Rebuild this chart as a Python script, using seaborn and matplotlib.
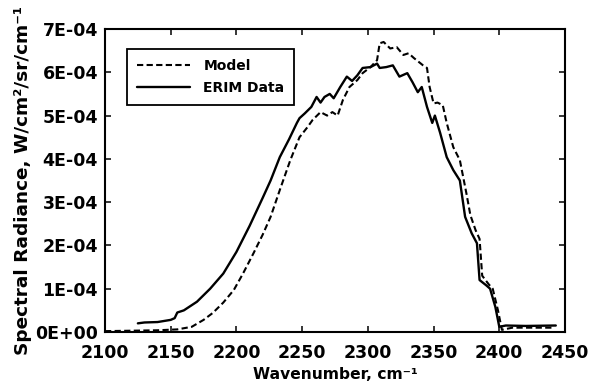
import numpy as np
import pandas as pd
import matplotlib
matplotlib.use("Agg")
import matplotlib.pyplot as plt
from matplotlib.ticker import FuncFormatter
import seaborn as sns

# ERIM measured data (wavenumber cm-1, radiance in 1E-04 W/cm2/sr/cm-1)
erim_wn = [2125, 2130, 2140, 2150, 2153, 2155, 2160, 2170, 2180, 2190, 2200, 2210,
           2220, 2226, 2233, 2240, 2246, 2248, 2252, 2257, 2261, 2264, 2267, 2271,
           2274, 2279, 2284, 2288, 2292, 2296, 2302, 2307, 2309, 2314, 2319, 2324,
           2330, 2334, 2338, 2341, 2345, 2349, 2351, 2355, 2360, 2365, 2370, 2374,
           2379, 2383, 2385, 2390, 2393, 2397, 2400, 2405, 2420, 2443]
erim_val = [0.20, 0.22, 0.23, 0.28, 0.32, 0.45, 0.50, 0.70, 1.00, 1.35, 1.85, 2.45,
            3.10, 3.50, 4.04, 4.45, 4.83, 4.94, 5.05, 5.20, 5.43, 5.30, 5.43, 5.50,
            5.40, 5.66, 5.90, 5.80, 5.93, 6.10, 6.12, 6.20, 6.10, 6.12, 6.16, 5.90,
            5.98, 5.77, 5.54, 5.66, 5.20, 4.83, 5.00, 4.60, 4.04, 3.74, 3.50, 2.66,
            2.28, 2.05, 1.20, 1.08, 1.00, 0.58, 0.12, 0.15, 0.14, 0.15]

# Model
model_wn = [2100, 2120, 2140, 2155, 2166, 2175, 2182, 2190, 2198, 2205, 2213, 2220,
            2226, 2233, 2241, 2248, 2254, 2258, 2264, 2269, 2273, 2277, 2281, 2286,
            2292, 2296, 2302, 2307, 2309, 2312, 2317, 2322, 2327, 2331, 2335, 2342,
            2345, 2347, 2350, 2353, 2357, 2360, 2365, 2370, 2375, 2378, 2382, 2385,
            2387, 2392, 2395, 2399, 2402, 2410, 2440]
model_val = [0.02, 0.03, 0.04, 0.06, 0.12, 0.28, 0.44, 0.68, 0.97, 1.35, 1.82, 2.25,
             2.66, 3.28, 3.97, 4.50, 4.73, 4.90, 5.08, 5.00, 5.08, 5.00, 5.36, 5.66,
             5.82, 5.98, 6.12, 6.28, 6.67, 6.70, 6.55, 6.58, 6.40, 6.44, 6.33, 6.16,
             6.10, 5.66, 5.28, 5.30, 5.24, 4.83, 4.27, 3.97, 3.20, 2.70, 2.35, 2.15,
             1.30, 1.10, 1.00, 0.50, 0.05, 0.10, 0.10]

x_ticks = [2100, 2150, 2200, 2250, 2300, 2350, 2400, 2450]
y_ticks = [0, 1e-4, 2e-4, 3e-4, 4e-4, 5e-4, 6e-4, 7e-4]

df_model = pd.DataFrame({"wn": model_wn, "rad": np.array(model_val) * 1e-4})
df_erim = pd.DataFrame({"wn": erim_wn, "rad": np.array(erim_val) * 1e-4})

sns.set_style("ticks")
plt.rcParams["font.family"] = ["DejaVu Sans"]
plt.rcParams["font.weight"] = "bold"
for k in ["text.color", "axes.labelcolor", "xtick.color", "ytick.color",
          "axes.edgecolor"]:
    plt.rcParams[k] = "black"

fig = plt.figure(figsize=(5.92, 3.85), dpi=100)
ax = fig.add_axes([105 / 592, 53 / 385, 460 / 592, 303 / 385])

sns.lineplot(data=df_model, x="wn", y="rad", ax=ax, color="black", lw=1.5,
             label="Model")
ax.lines[-1].set_dashes((3.0, 1.6))
sns.lineplot(data=df_erim, x="wn", y="rad", ax=ax, color="black", lw=1.7,
             label="ERIM Data")

ax.set_xlim(2100, 2450)
ax.set_ylim(0, 7e-4)
ax.set_xticks(x_ticks)
ax.set_yticks(y_ticks)
ax.yaxis.set_major_formatter(FuncFormatter(lambda v, p: f"{v:.0E}"))
ax.tick_params(direction="in", length=4, width=1.1, top=True, right=True,
               labelsize=12.5, colors="black")
ax.tick_params(axis="x", pad=9)
ax.tick_params(axis="y", pad=5)
for lab in ax.get_xticklabels() + ax.get_yticklabels():
    lab.set_fontweight("bold")
for s in ax.spines.values():
    s.set_linewidth(1.5)
    s.set_color("black")

ax.set_xlabel("Wavenumber, cm⁻¹", fontsize=11.2, fontweight="bold", labelpad=3)
ax.set_ylabel("Spectral Radiance, W/cm²/sr/cm⁻¹", fontsize=13.3,
              fontweight="bold", labelpad=2)

leg = ax.legend(loc="upper left", bbox_to_anchor=(0.048, 0.934), borderaxespad=0,
                fancybox=False, framealpha=1, edgecolor="black",
                prop={"weight": "bold", "size": 10}, handlelength=3.8,
                handletextpad=1.0, borderpad=0.7, labelspacing=0.6)
leg.get_frame().set_linewidth(1.3)
for t in leg.get_texts():
    t.set_color("black")

fig.savefig("out.png", dpi=100)
